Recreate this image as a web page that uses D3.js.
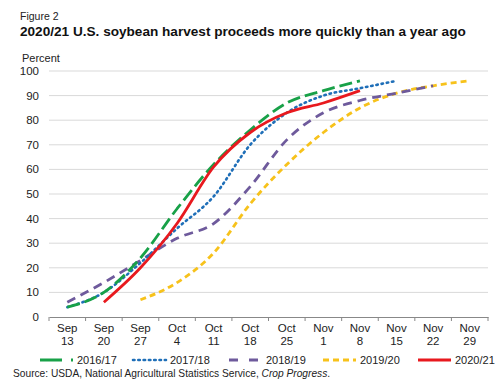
<!DOCTYPE html>
<html>
<head>
<meta charset="utf-8">
<script src="https://cdn.jsdelivr.net/npm/d3@7"></script>
<style>
html,body{margin:0;padding:0;background:#fff;}
svg{display:block;font-family:"Liberation Sans",Arial,sans-serif;}
</style>
</head>
<body>
<svg id="chart" width="500" height="387"></svg>
<script>
const categories = ["Sep 13","Sep 20","Sep 27","Oct 4","Oct 11","Oct 18","Oct 25","Nov 1","Nov 8","Nov 15","Nov 22","Nov 29"];
const seriesNames = ["2016/17","2017/18","2018/19","2019/20","2020/21"];
const s2016 = [4, 10, 24, 44, 62, 76, 87, 92, 96, null, null, null];
const s2017 = [4, 10, 22, 36, 49, 70, 83, 90, 93, 96, null, null];
const s2018 = [6, 14, 23, 32, 38, 53, 72, 83, 88, 91, 94, null];
const s2019 = [null, null, 7, 14, 26, 46, 62, 75, 85, 91, 94, 96];
const s2020 = [null, 6, 20, 38, 61, 75, 83, 87, 92, null, null, null];
const yTicks = [0,10,20,30,40,50,60,70,80,90,100];

const colors = {"2016/17":"#18a148","2017/18":"#1f6fb8","2018/19":"#6e5a9c","2019/20":"#f7c21b","2020/21":"#e8191e"};
const dashes = {"2016/17":"13,5","2017/18":"1.5,3.8","2018/19":"9,6","2019/20":"6,4","2020/21":null};
const caps = {"2016/17":"butt","2017/18":"round","2018/19":"butt","2019/20":"butt","2020/21":"butt"};
const seriesData = {"2016/17":s2016,"2017/18":s2017,"2018/19":s2018,"2019/20":s2019,"2020/21":s2020};

const svg = d3.select("#chart");
const x = d3.scaleBand().domain(categories).range([49, 488]).padding(0);
const y = d3.scaleLinear().domain([0,100]).range([317, 71]);

// titles
svg.append("text").attr("x",20).attr("y",20).attr("font-size",10.5).attr("fill","#222").text("Figure 2");
svg.append("text").attr("x",20).attr("y",36).attr("font-size",13.6).attr("font-weight","bold").attr("fill","#111")
  .text("2020/21 U.S. soybean harvest proceeds more quickly than a year ago");
svg.append("text").attr("x",22).attr("y",62).attr("font-size",11).attr("fill","#222").text("Percent");

// gridlines
svg.append("g").selectAll("line").data(yTicks.filter(d=>d>0)).join("line")
  .attr("x1",49).attr("x2",488).attr("y1",d=>y(d)).attr("y2",d=>y(d))
  .attr("stroke","#d9d9d9").attr("stroke-width",1);

// y labels
svg.append("g").selectAll("text").data(yTicks).join("text")
  .attr("x",39).attr("y",d=>y(d)+4).attr("text-anchor","end").attr("font-size",11.5).attr("fill","#222")
  .text(d=>d);

// x axis
const xAxis = d3.axisBottom(x).tickSize(0).tickFormat("");
const gx = svg.append("g").attr("transform","translate(0,317)").call(xAxis);
gx.select(".domain").attr("stroke","#888").attr("stroke-width",1);
const bounds = categories.map(c=>x(c)).concat([x(categories[categories.length-1])+x.bandwidth()]);
svg.append("g").selectAll("line").data(bounds).join("line")
  .attr("x1",d=>d).attr("x2",d=>d).attr("y1",317).attr("y2",321).attr("stroke","#888");
const xl = svg.append("g").selectAll("text").data(categories).join("text")
  .attr("x",d=>x(d)+x.bandwidth()/2).attr("text-anchor","middle").attr("font-size",11.5).attr("fill","#222");
xl.append("tspan").attr("x",d=>x(d)+x.bandwidth()/2).attr("y",332).text(d=>d.split(" ")[0]);
xl.append("tspan").attr("x",d=>x(d)+x.bandwidth()/2).attr("y",345).text(d=>d.split(" ")[1]);

// lines
const line = d3.line().defined(d=>d.v!=null).x(d=>x(d.c)+x.bandwidth()/2).y(d=>y(d.v)).curve(d3.curveMonotoneX);
const drawOrder = ["2019/20","2018/19","2017/18","2016/17","2020/21"];
drawOrder.forEach(name=>{
  const data = categories.map((c,i)=>({c, v: seriesData[name][i]}));
  svg.append("path").datum(data).attr("d",line).attr("fill","none")
    .attr("stroke",colors[name]).attr("stroke-width",name==="2017/18"?2.6:2.8)
    .attr("stroke-dasharray",dashes[name]).attr("stroke-linecap",caps[name]);
});

// legend
const legX = [40,133,229,323,418];
const legend = svg.append("g");
seriesNames.forEach((name,i)=>{
  const lx = legX[i];
  legend.append("line").attr("x1",lx).attr("x2",lx+33).attr("y1",360).attr("y2",360)
    .attr("stroke",colors[name]).attr("stroke-width",name==="2017/18"?2.6:3)
    .attr("stroke-dasharray",name==="2016/17"?"22,9":name==="2018/19"?"9,11":dashes[name])
    .attr("stroke-linecap",caps[name]);
  legend.append("text").attr("x",lx+37).attr("y",364).attr("font-size",11).attr("fill","#222").text(name);
});

svg.append("text").attr("x",13).attr("y",377).attr("font-size",10.2).attr("fill","#222")
  .html('Source: USDA, National Agricultural Statistics Service, <tspan font-style="italic">Crop Progress</tspan>.');
</script>
</body>
</html>
